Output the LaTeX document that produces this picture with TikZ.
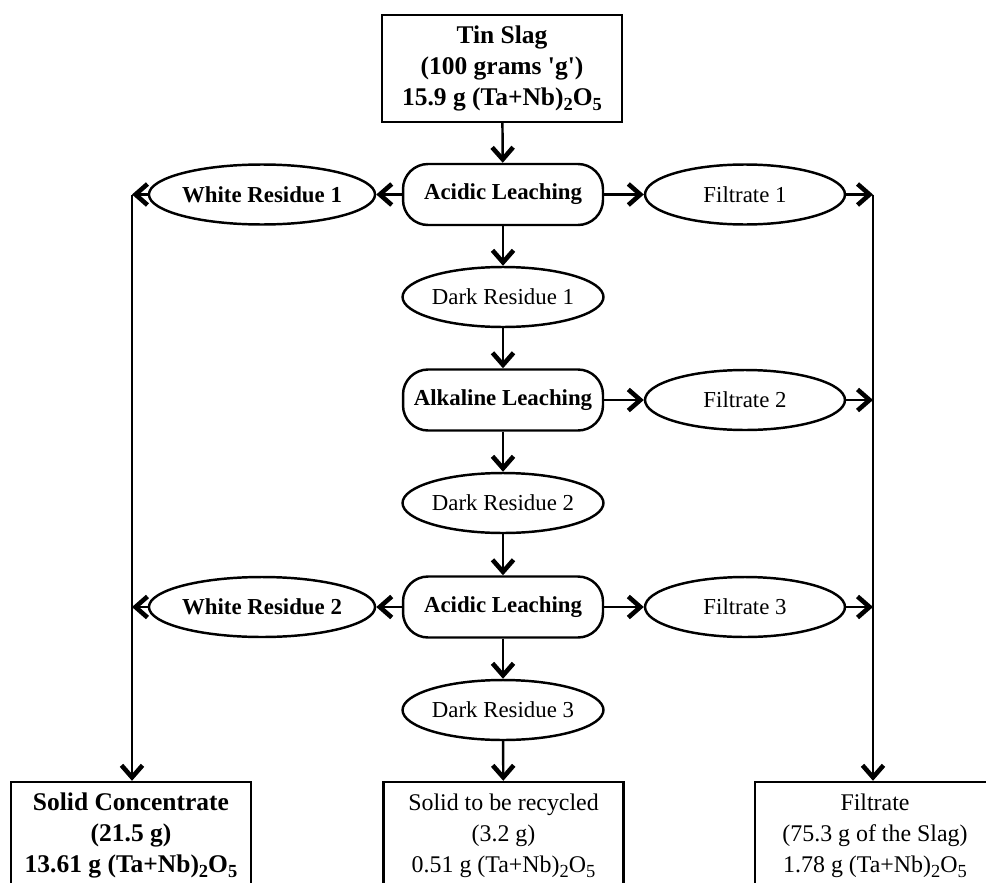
\documentclass[tikz,border=0pt]{standalone}
\usepackage{fontspec}
\setmainfont{Liberation Serif}[Ligatures=TeXOff]
\usetikzlibrary{shapes.geometric,arrows.meta}

\tikzset{
  base/.style={draw, line width=1.4pt, font=\fontsize{13}{17.5}\selectfont, align=center},
  box/.style={base, rectangle, minimum width=4.8cm, minimum height=2.14cm, font=\fontsize{13.6}{17.6}\selectfont},
  proc/.style={base, rectangle, rounded corners=0.5cm, minimum width=4cm, minimum height=1.22cm},
  oval/.style={base, ellipse, minimum width=4cm, minimum height=1.2cm, inner sep=0pt},
  flow/.style={line width=1.4pt, -{Straight Barb[length=2.4mm,width=4.2mm,line width=2.6pt]}},
  heavy/.style={font=\fontsize{13}{17.5}\selectfont\bfseries},
  heavybox/.style={font=\fontsize{14.5}{17.6}\selectfont\bfseries}
}
\newcommand{\lowidx}[1]{\raisebox{-0.45ex}{\fontsize{10.5}{10.5}\selectfont #1}}
\newcommand{\tano}{(Ta+Nb)\lowidx{2}O\lowidx{5}}

\begin{document}
\begin{tikzpicture}[x=0.02cm, y=-0.02cm]
        \useasboundingbox (0,0) rectangle (986,882);
        % feed
        \node[box, heavybox] (slag) at (502,68.5) {Tin Slag\\(100 grams 'g')\\15.9 g \tano};
        % first stage
        \node[proc, heavy] (leach1) at (503,194.5) {Acidic Leaching};
        \node[oval, heavy] (white1) at (262,194.5) {White Residue 1};
        \node[oval] (filt1) at (745,194.5) {Filtrate 1};
        \node[oval] (dark1) at (503,297) {Dark Residue 1};
        % second stage
        \node[proc, heavy] (alk) at (503,400) {Alkaline Leaching};
        \node[oval] (filt2) at (745,400) {Filtrate 2};
        \node[oval] (dark2) at (503,503) {Dark Residue 2};
        % third stage
        \node[proc, heavy] (leach2) at (503,607) {Acidic Leaching};
        \node[oval, heavy] (white2) at (262,607) {White Residue 2};
        \node[oval] (filt3) at (745,607) {Filtrate 3};
        \node[oval] (dark3) at (503,710) {Dark Residue 3};
        % products
        \node[box, heavybox] (conc) at (131,835.5) {Solid Concentrate\\(21.5 g)\\13.61 g \tano};
        \node[box] (recyc) at (503.5,835.5) {Solid to be recycled\\(3.2 g)\\0.51 g \tano};
        \node[box] (filtr) at (875,835.5) {Filtrate\\(75.3 g of the Slag)\\1.78 g \tano};

        % collector lines
        \coordinate (ltop) at (132,194.5);
        \coordinate (rtop) at (873,194.5);

        % main column
        \draw[flow] (slag) -- (leach1);
        \draw[flow] (leach1) -- (dark1);
        \draw[flow] (dark1) -- (alk);
        \draw[flow] (alk) -- (dark2);
        \draw[flow] (dark2) -- (leach2);
        \draw[flow] (leach2) -- (dark3);
        \draw[flow] (dark3) -- (recyc);

        % side streams
        \draw[flow] (leach1) -- (white1);
        \draw[flow] (leach1) -- (filt1);
        \draw[flow] (alk) -- (filt2);
        \draw[flow] (leach2) -- (white2);
        \draw[flow] (leach2) -- (filt3);

        \draw[flow] (white1) -- (ltop);
        \draw[flow] (white2) -- (white2 -| ltop);
        \draw[flow] (ltop) -- (ltop |- conc.north);

        \draw[flow] (filt1) -- (rtop);
        \draw[flow] (filt2) -- (filt2 -| rtop);
        \draw[flow] (filt3) -- (filt3 -| rtop);
        \draw[flow] (rtop) -- (rtop |- filtr.north);
\end{tikzpicture}
\end{document}
